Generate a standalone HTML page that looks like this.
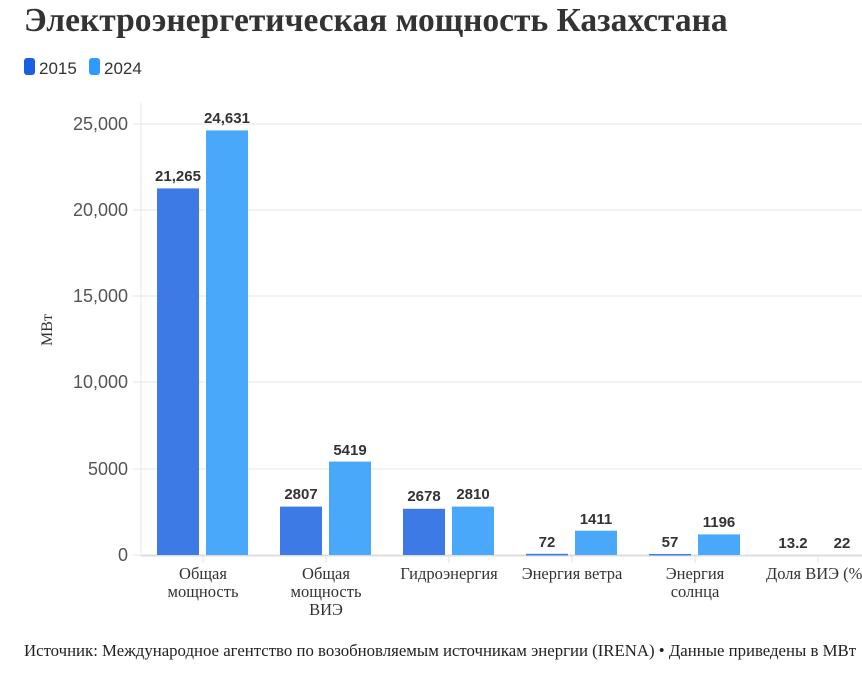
<!DOCTYPE html><html><head><meta charset="utf-8"><style>body{margin:0;background:#fff;width:862px;height:681px;overflow:hidden}</style></head><body>
<svg width="862" height="681" xmlns="http://www.w3.org/2000/svg">
<text x="24" y="31" font-family="Liberation Serif, serif" font-weight="bold" font-size="33.5" fill="#333">Электроэнергетическая мощность Казахстана</text>
<rect x="24" y="58" width="11" height="17" rx="3" fill="#1a5fe0"/>
<text x="39" y="74" font-family="Liberation Sans, sans-serif" font-size="17" fill="#333">2015</text>
<rect x="89" y="58" width="11" height="17" rx="3" fill="#2d9bff"/>
<text x="104" y="74" font-family="Liberation Sans, sans-serif" font-size="17" fill="#333">2024</text>
<g stroke="#e6e6e6" stroke-width="1">
<line x1="141" x2="862" y1="124" y2="124"/><line x1="141" x2="862" y1="210" y2="210"/><line x1="141" x2="862" y1="296" y2="296"/><line x1="141" x2="862" y1="382" y2="382"/><line x1="141" x2="862" y1="469" y2="469"/>
<line x1="141" x2="141" y1="103" y2="556"/>
<line x1="133" x2="141" y1="124" y2="124"/><line x1="133" x2="141" y1="210" y2="210"/><line x1="133" x2="141" y1="296" y2="296"/><line x1="133" x2="141" y1="382" y2="382"/><line x1="133" x2="141" y1="469" y2="469"/><line x1="133" x2="141" y1="555" y2="555"/>
</g>
<line x1="141" x2="862" y1="555.5" y2="555.5" stroke="#ddd" stroke-width="2"/>
<g stroke="#e0e0e0"><line x1="203" x2="203" y1="556" y2="563"/><line x1="326" x2="326" y1="556" y2="563"/><line x1="449" x2="449" y1="556" y2="563"/><line x1="572" x2="572" y1="556" y2="563"/><line x1="695" x2="695" y1="556" y2="563"/><line x1="818" x2="818" y1="556" y2="563"/></g>
<g font-family="Liberation Sans, sans-serif" font-size="18" fill="#555" text-anchor="end">
<text x="128" y="130">25,000</text><text x="128" y="216">20,000</text><text x="128" y="302">15,000</text><text x="128" y="388">10,000</text><text x="128" y="475">5000</text><text x="128" y="561">0</text></g>
<text transform="translate(52,330) rotate(-90)" text-anchor="middle" font-family="Liberation Serif, serif" font-size="16" fill="#333">МВт</text>
<g fill="#3d7ae6">
<rect x="157" y="188.4" width="42" height="366.6"/><rect x="280" y="506.6" width="42" height="48.4"/><rect x="403" y="508.8" width="42" height="46.2"/><rect x="526" y="553.8" width="42" height="1.6"/><rect x="649" y="554" width="42" height="1.4"/></g>
<g fill="#4aa8fb">
<rect x="206" y="130.4" width="42" height="424.6"/><rect x="329" y="461.6" width="42" height="93.4"/><rect x="452" y="506.6" width="42" height="48.4"/><rect x="575" y="530.7" width="42" height="24.3"/><rect x="698" y="534.4" width="42" height="20.6"/></g>
<g font-family="Liberation Sans, sans-serif" font-size="15" font-weight="bold" fill="#333" text-anchor="middle">
<text x="178" y="181">21,265</text><text x="227" y="123">24,631</text><text x="301" y="499">2807</text><text x="350" y="455">5419</text><text x="424" y="501">2678</text><text x="473" y="499">2810</text><text x="547" y="547">72</text><text x="596" y="524">1411</text><text x="670" y="547">57</text><text x="719" y="527">1196</text><text x="793" y="548">13.2</text><text x="842" y="548">22</text></g>
<g font-family="Liberation Serif, serif" font-size="16.5" fill="#333" text-anchor="middle">
<text x="203" y="579">Общая</text><text x="203" y="597">мощность</text>
<text x="326" y="579">Общая</text><text x="326" y="597">мощность</text><text x="326" y="615">ВИЭ</text>
<text x="449" y="579">Гидроэнергия</text><text x="572" y="579">Энергия ветра</text>
<text x="695" y="579">Энергия</text><text x="695" y="597">солнца</text>
<text x="766" y="579" text-anchor="start">Доля ВИЭ (%)</text></g>
<text x="24" y="656" font-family="Liberation Serif, serif" font-size="16.8" fill="#222">Источник: Международное агентство по возобновляемым источникам энергии (IRENA) • Данные приведены в МВт</text>
</svg></body></html>
